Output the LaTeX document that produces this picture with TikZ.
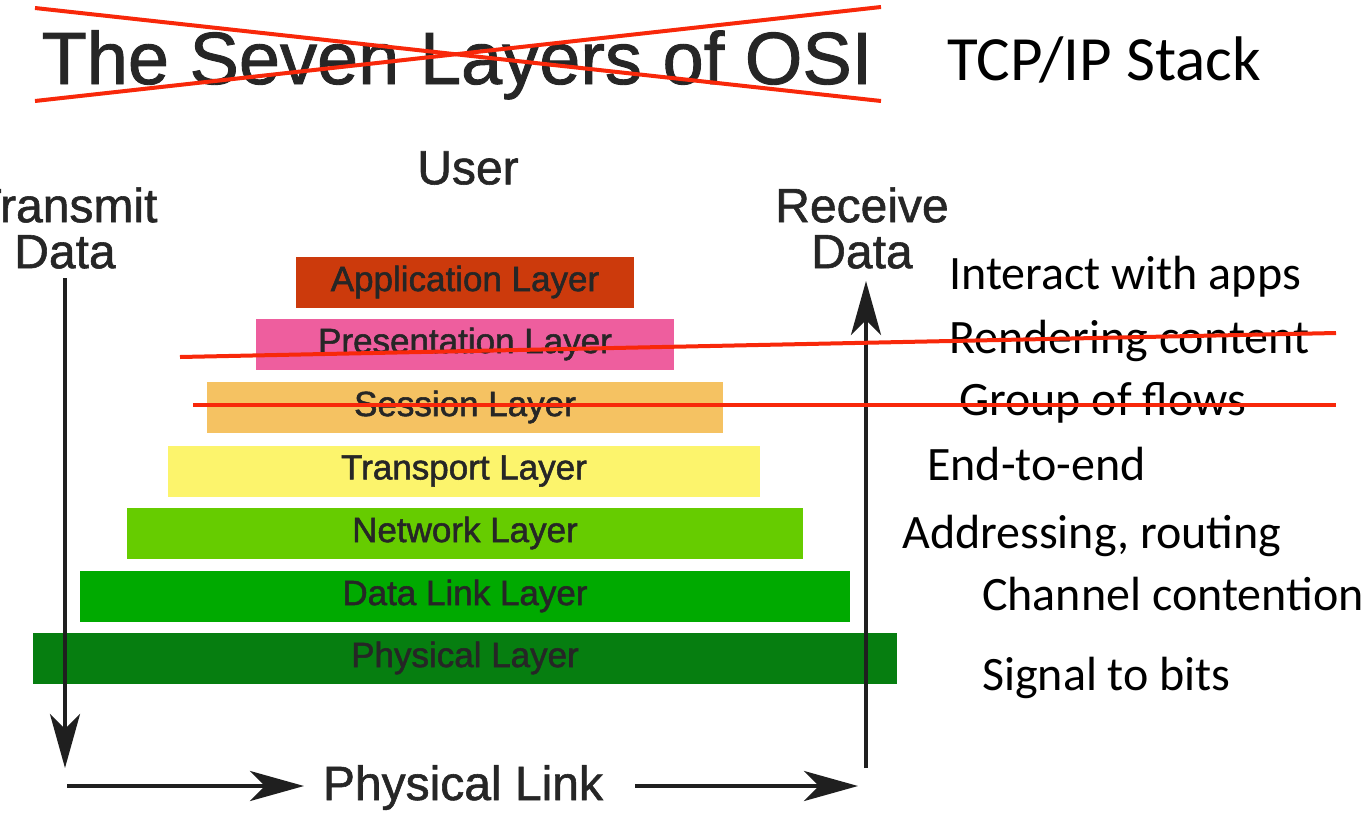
\documentclass[tikz,border=0pt]{standalone}
\usepackage{fontspec}
\setmainfont{Liberation Sans}
\newfontfamily\calibfont{Carlito}
\newfontfamily\heavyfont[FakeBold=1.2]{Liberation Sans}
\newfontfamily\semifont[FakeBold=1.5]{Liberation Sans}
\usetikzlibrary{arrows.meta}
\definecolor{appc}{HTML}{CC3A0C}
\definecolor{prec}{HTML}{EE5E9E}
\definecolor{sesc}{HTML}{F5C262}
\definecolor{trac}{HTML}{FCF46C}
\definecolor{netc}{HTML}{66CC00}
\definecolor{dlc}{HTML}{00AA00}
\definecolor{phyc}{HTML}{067E10}
\definecolor{strike}{HTML}{F8280A}
\tikzset{
  layerbar/.style={draw=none, inner sep=0pt, minimum height=51pt,
    font=\semifont\fontsize{35}{38}\selectfont, text=black!85},
  biglabel/.style={inner sep=0pt, align=center, text=black!85,
    font=\heavyfont\fontsize{48}{46}\selectfont},
  rightlabel/.style={inner sep=0pt, anchor=base west,
    font=\calibfont\fontsize{48}{50}\selectfont},
  redline/.style={strike, line width=4pt},
  flow/.style={black!88, line width=4.5pt, -{Stealth[length=54pt,width=30pt,inset=15pt]}}
}
\begin{document}
\begin{tikzpicture}[x=1pt,y=-1pt]
\useasboundingbox (0,0) rectangle (1369,815);
\fill[white] (0,0) rectangle (1369,815);

% title
\node[inner sep=0pt, anchor=base, text=black!85, font=\heavyfont\fontsize{74}{76}\selectfont] (title) at (457,84) {The Seven Layers of OSI};
\node[rightlabel, font=\calibfont\fontsize{63}{65}\selectfont] (tcp) at (947,80) {TCP/IP Stack};

% layers
\node[layerbar, fill=appc, minimum width=338pt] (app) at (465,282) {Application Layer};
\node[layerbar, fill=prec, minimum width=418pt] (pre) at (465,344) {Presentation Layer};
\node[layerbar, fill=sesc, minimum width=516pt] (ses) at (465,407) {Session Layer};
\node[layerbar, fill=trac, minimum width=592pt] (tra) at (464,471) {Transport Layer};
\node[layerbar, fill=netc, minimum width=676pt] (net) at (465,533) {Network Layer};
\node[layerbar, fill=dlc, minimum width=770pt] (dl) at (465,596) {Data Link Layer};
\node[layerbar, fill=phyc, minimum width=864pt] (phy) at (465,658) {Physical Layer};

% side labels
\node[biglabel] (user) at (468,168) {User};
\node[biglabel] (tx) at (65,228) {Transmit\\Data};
\node[biglabel] (rx) at (862,228) {Receive\\Data};
\node[biglabel, anchor=base] (plink) at (463,800) {Physical Link};

% arrows
\coordinate (txtop) at (65,278);
\coordinate (txbot) at (65,768);
\coordinate (rxbot) at (866,768);
\coordinate (rxtop) at (866,281);
\coordinate (blstart) at (67,786);
\coordinate (blend) at (304,786);
\coordinate (brstart) at (635,786);
\coordinate (brend) at (858,786);
\draw[flow] (txtop) -- (txbot);
\draw[flow] (rxbot) -- (rxtop);
\draw[flow] (blstart) -- (blend);
\draw[flow] (brstart) -- (brend);

% right descriptions
\node[rightlabel] (d1) at (949,289) {Interact with apps};
\node[rightlabel] (d2) at (949,353) {Rendering content};
\node[rightlabel] (d3) at (959,415) {Group of flows};
\node[rightlabel] (d4) at (927,480) {End-to-end};
\node[rightlabel] (d5) at (902,548) {Addressing, routing};
\node[rightlabel] (d6) at (982,610) {Channel contention};
\node[rightlabel] (d7) at (982,690) {Signal to bits};

% red strike lines
\coordinate (xa) at (35,8);
\coordinate (xb) at (881,101);
\coordinate (xc) at (35,101);
\coordinate (xd) at (881,7);
\coordinate (sa) at (180,357);
\coordinate (sb) at (1336,333);
\coordinate (sc) at (193,405);
\coordinate (sd) at (1336,405);
\draw[redline] (xa) -- (xb);
\draw[redline] (xc) -- (xd);
\draw[redline] (sa) -- (sb);
\draw[redline] (sc) -- (sd);
\end{tikzpicture}
\end{document}
